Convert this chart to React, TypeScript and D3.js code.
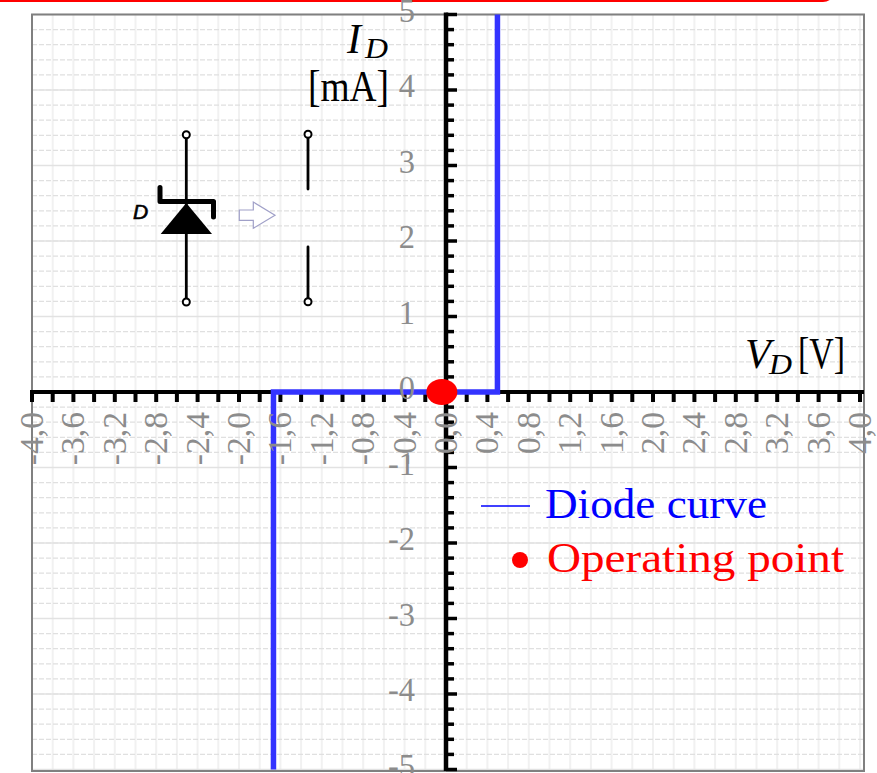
import React from "react";
import * as d3 from "d3";

const xTickValues = d3.range(-20, 21).map((i) => i / 5);
const xLabelValues = d3.range(-10, 11).map((i) => (i * 2) / 5);
const yMinorValues = d3.range(-25, 26).map((i) => i / 5);
const yMajorValues = [-5, -4, -3, -2, -1, 0, 1, 2, 3, 4, 5];
const curveVoltage = [-1.667, -1.667, 0.497, 0.497];
const curveCurrent = [-5, 0, 0, 5];
const operatingPoint = { v: -0.04, i: 0 };
const legendItems = ["Diode curve", "Operating point"];

const W = 877;
const H = 773;
const x = d3.scaleLinear().domain([-4, 4]).range([32, 860]);
const y = d3.scaleLinear().domain([-5, 5]).range([769.5, 14.5]);
const FRAME = { l: 32, r: 864, t: 14.5, b: 771 };
const SERIF = "'Liberation Serif', serif";
const GREY = "#8c8c8c";

const curvePath = d3
  .line<number>()
  .x((v) => x(v))
  .y((_, i) => y(curveCurrent[i]))(curveVoltage) as string;

const fmt = (v: number) => v.toFixed(1).replace(".", ",");

export default function App() {
  return (
    <svg
      width={W}
      height={H}
      viewBox={`0 0 ${W} ${H}`}
      style={{ position: "absolute", left: 0, top: 0, background: "#fff" }}
    >
      <rect x={-20} y={-30} width={855} height={32} rx={12} fill="#ff0000" />

      {/* grid */}
      {xTickValues.map((v) => (
        <line key={`gx${v}`} x1={x(v)} x2={x(v)} y1={FRAME.t} y2={FRAME.b} stroke="#f1f1f1" strokeWidth={2} />
      ))}
      {yMinorValues.map((v) => (
        <line key={`gy${v}`} x1={FRAME.l} x2={FRAME.r} y1={y(v)} y2={y(v)} stroke="#e0e0e0" strokeWidth={1.2} strokeDasharray="5 2" />
      ))}
      {yMajorValues.map((v) => (
        <line key={`gm${v}`} x1={FRAME.l} x2={FRAME.r} y1={y(v)} y2={y(v)} stroke="#e2e2e2" strokeWidth={1.6} />
      ))}
      <rect x={FRAME.l} y={FRAME.t} width={FRAME.r - FRAME.l} height={FRAME.b - FRAME.t} fill="none" stroke="#808080" strokeWidth={2} />

      {/* axes */}
      <line x1={x(-4) - 2} x2={FRAME.r} y1={y(0)} y2={y(0)} stroke="#000" strokeWidth={4} />
      <line x1={x(0)} x2={x(0)} y1={FRAME.t - 2} y2={FRAME.b} stroke="#000" strokeWidth={4.5} />
      {xTickValues.map((v) => (
        <line key={`tx${v}`} x1={x(v)} x2={x(v)} y1={y(0)} y2={y(0) + 10} stroke="#000" strokeWidth={4} />
      ))}
      {yMinorValues.map((v) => (
        <line key={`ty${v}`} x1={x(0)} x2={x(0) + (Number.isInteger(v) ? 11 : 8)} y1={y(v)} y2={y(v)} stroke="#000" strokeWidth={3.5} />
      ))}

      {/* curve */}
      <path d={curvePath} fill="none" stroke="#3333ff" strokeWidth={5.5} />

      {/* tick labels */}
      <g fontFamily={SERIF} fontSize={29} fill={GREY}>
        {xLabelValues.map((v) => (
          <text key={`lx${v}`} textAnchor="end" transform={`translate(${x(v) + 11},412) rotate(-90) scale(1.16,1.13)`}>
            {fmt(v)}
          </text>
        ))}
        {yMajorValues.map((v) => (
          <text key={`ly${v}`} textAnchor="end" transform={`translate(415,${y(v) + 7}) scale(1.12,1.13)`}>
            {v}
          </text>
        ))}
      </g>

      {/* operating point */}
      <ellipse cx={x(operatingPoint.v)} cy={y(operatingPoint.i)} rx={15.5} ry={13} fill="#ff0000" />

      {/* axis titles */}
      <g fontFamily={SERIF} fill="#000">
        <text x={347} y={53} fontSize={42} fontStyle="italic">I</text>
        <text x={365} y={58} fontSize={30} fontStyle="italic" textLength={23} lengthAdjust="spacingAndGlyphs">D</text>
        <text x={308} y={101} fontSize={45} textLength={81} lengthAdjust="spacingAndGlyphs">[mA]</text>
        <text x={745} y={368} fontSize={42} fontStyle="italic">V</text>
        <text x={769} y={374} fontSize={30} fontStyle="italic" textLength={23} lengthAdjust="spacingAndGlyphs">D</text>
        <text x={798} y={368} fontSize={45} textLength={47} lengthAdjust="spacingAndGlyphs">[V]</text>
      </g>

      {/* legend */}
      <g fontFamily={SERIF} fontSize={42}>
        <line x1={481} x2={530} y1={506} y2={506} stroke="#0000ff" strokeWidth={1.6} />
        <text x={545} y={518} fill="#0000ff" textLength={222} lengthAdjust="spacingAndGlyphs">{legendItems[0]}</text>
        <circle cx={520} cy={560} r={8} fill="#ff0000" />
        <text x={547} y={572} fill="#ff0000" textLength={297} lengthAdjust="spacingAndGlyphs">{legendItems[1]}</text>
      </g>

      {/* zener schematic */}
      <g stroke="#000" fill="none" strokeWidth={2.8}>
        <line x1={186.3} x2={186.3} y1={137} y2={300} />
        <circle cx={186.3} cy={134.7} r={3.5} fill="#fff" strokeWidth={2} />
        <circle cx={186.3} cy={302} r={3.5} fill="#fff" strokeWidth={2} />
        <path d="M186.3 203 L212 234 L160.7 234 Z" fill="#000" stroke="none" />
        <path d="M160 187.5 V201.5 H213.5 V217" strokeWidth={5} strokeLinecap="round" strokeLinejoin="round" />
        <line x1={308} x2={308} y1={136} y2={189} strokeLinecap="round" />
        <line x1={308} x2={308} y1={247} y2={300} strokeLinecap="round" />
        <circle cx={308} cy={134.3} r={3.5} fill="#fff" strokeWidth={2} />
        <circle cx={308} cy={301.7} r={3.5} fill="#fff" strokeWidth={2} />
      </g>
      <path
        d="M239.3 210 H253.3 V202 L275 215.3 L253.3 228.3 V220.3 H239.3 Z"
        fill="#fff"
        stroke="#a0a0c8"
        strokeWidth={1.2}
      />
      <text x={133} y={219} fontFamily="'Liberation Sans', sans-serif" fontStyle="italic" fontSize={21} fill="#000" stroke="#000" strokeWidth={0.6}>
        D
      </text>
    </svg>
  );
}
